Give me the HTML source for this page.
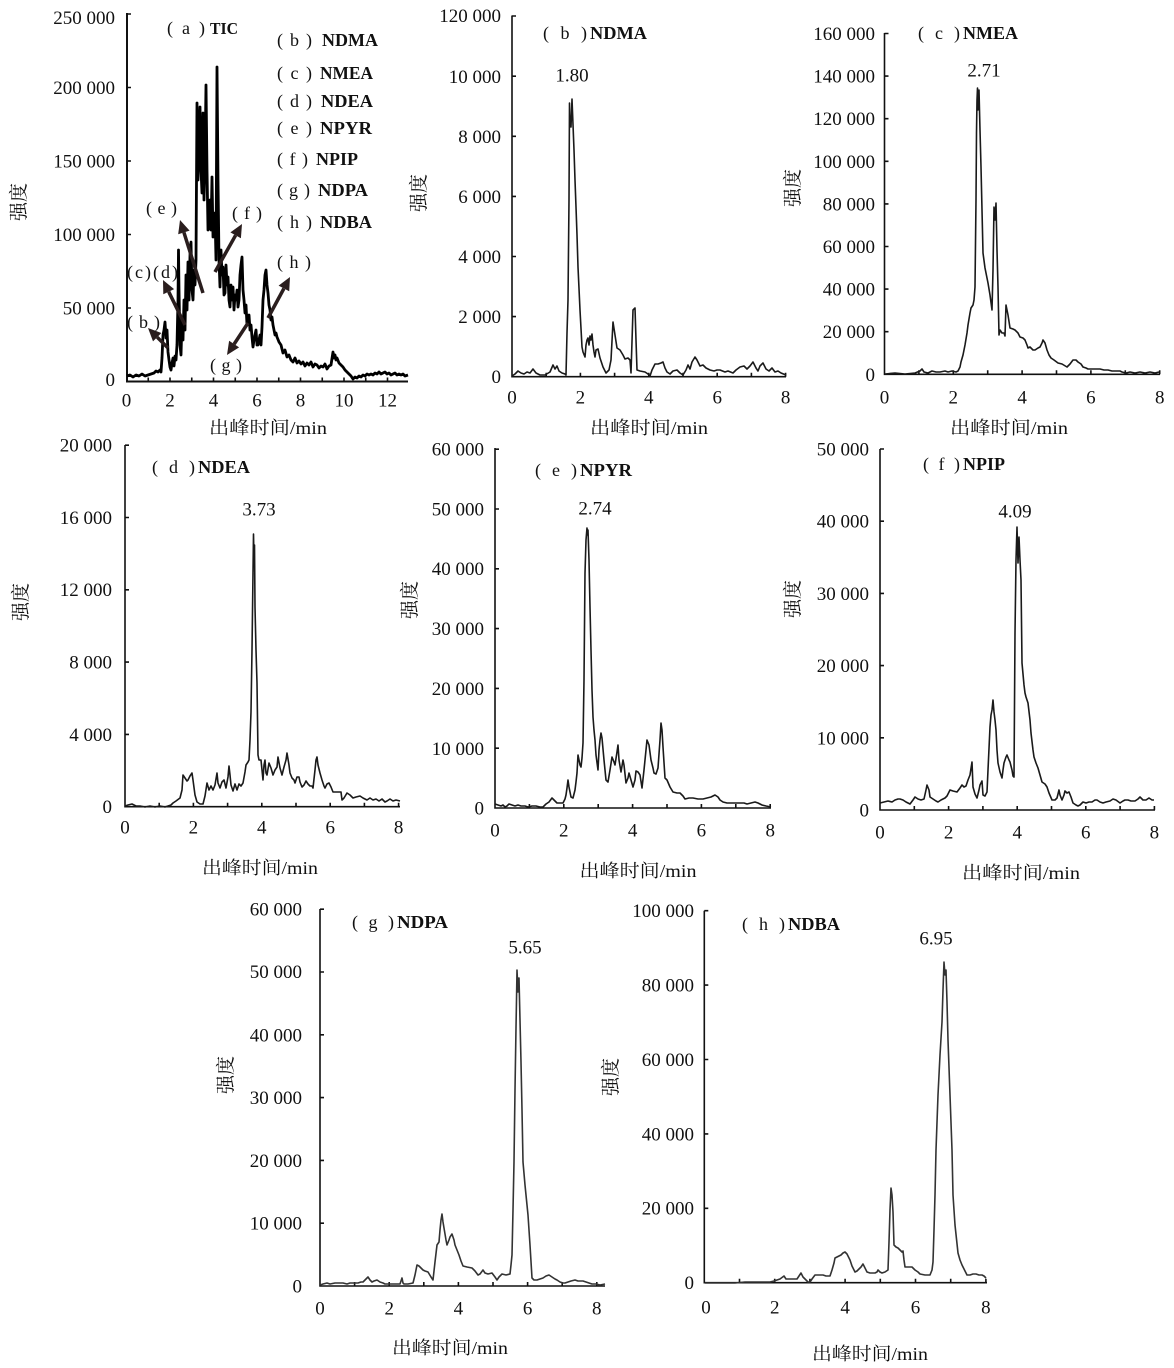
<!DOCTYPE html>
<html><head><meta charset="utf-8"><style>
html,body{margin:0;padding:0;background:#fff;}
svg{display:block;}
text{font-family:"Liberation Serif","Noto Serif CJK SC",serif;fill:#111;}
.t{font-size:19px;}
.b{font-weight:bold;}
.cj{font-family:"Liberation Serif","Noto Serif CJK SC",serif;font-size:18px;}
.ax{stroke:#111;stroke-width:1.6;fill:none;}
.tr{stroke:#1a1a1a;stroke-width:1.6;fill:none;stroke-linejoin:round;}
.ar{stroke:#2a1e1e;stroke-width:3.5;fill:none;}
.ah{fill:#2a1e1e;}
</style></head><body>
<svg width="1174" height="1368" viewBox="0 0 1174 1368" xmlns="http://www.w3.org/2000/svg">

<!-- ===== Panel (a) TIC ===== -->
<path class="ax" style="stroke-width:2" d="M127,13 V381.5 H408"/>
<path class="ax" d="M127,308 h4 M127,234.5 h4 M127,161 h4 M127,87.5 h4 M127,14 h4
M148.25,381.5 v-4 M170,381.5 v-4 M191.75,381.5 v-4 M213.5,381.5 v-4 M235.25,381.5 v-4 M257,381.5 v-4 M278.75,381.5 v-4 M300.5,381.5 v-4 M322.25,381.5 v-4 M344,381.5 v-4 M365.75,381.5 v-4 M387.5,381.5 v-4"/>
<g class="t" text-anchor="end">
<text x="115" y="386">0</text>
<text x="115" y="314.5">50 000</text>
<text x="115" y="241">100 000</text>
<text x="115" y="167.5">150 000</text>
<text x="115" y="94">200 000</text>
<text x="115" y="24">250 000</text>
</g>
<g class="t" text-anchor="middle">
<text x="126.5" y="406.5">0</text><text x="170" y="406.5">2</text><text x="213.5" y="406.5">4</text><text x="257" y="406.5">6</text><text x="300.5" y="406.5">8</text><text x="344" y="406.5">10</text><text x="387.5" y="406.5">12</text>
</g>
<text class="cj" x="268" y="434" text-anchor="middle" textLength="118" lengthAdjust="spacingAndGlyphs">出峰时间/min</text>
<text class="cj" transform="translate(25,202) rotate(-90)" text-anchor="middle" style="font-size:19px">强度</text>
<text x="167" y="34" font-size="18" textLength="38" lengthAdjust="spacing">(a)</text>
<text x="210" y="34" font-size="17" class="b" textLength="28" lengthAdjust="spacingAndGlyphs">TIC</text>

<polyline class="tr" style="stroke-width:2.8;stroke:#000" points="127,376 130,375 133,377 136,375 139,376 142,374 145,376 148,375 151,374 154,373 156,371 158,372 160,370 161,372 162,358 163,335 164,330 165,322 166,338 167,330 168,352 169,360 170,367 171,370 172,363 173,358 174,366 175,356 176,360 177,345 178,300 178.5,250 179,290 180,345 181,355 182,320 183,340 184,300 185,330 186,275 187,310 188,262 189,300 190,255 191,242 192,290 193,300 194,270 195,285 196,260 197,103 198,180 199,143 200,107 201,170 202,193 202.5,150 203,113 204,200 205,160 206,85 207,170 208,230 209,227 210,200 211,230 212,177 213,237 214,215 215,213 216,260 217,67 218,180 219,260 220,287 221,250 222,275 223,267 224,295 225,293 226,265 227,285 228,277 229,300 230,307 231,285 232,300 233,287 234,310 235,295 236,300 237,290 238,307 239,300 240,275 241,265 242,257 243,290 244,300 245,313 246,305 247,325 248,323 249,315 250,330 251,325 252,337 253,347 254,340 255,335 256,330 257,345 258,345 259,340 260,335 261,345 262,327 263,300 264,290 265,275 266,270 267,285 268,293 269,305 270,310 271,320 272,317 273,325 274,330 275,335 276,333 277,337 279,342 281,345 283,353 285,350 287,357 289,355 291,360 293,362 295,358 297,363 299,361 301,364 303,362 305,366 307,363 309,365 311,362 313,367 315,364 317,365 319,368 321,366 323,367 325,364 327,369 329,366 331,365 333,352 334,358 335,355 336,360 337,358 339,363 341,365 343,367 345,370 347,372 349,374 351,376 353,379 355,377 357,378 359,376 361,377 363,375 365,376 367,374 369,375 371,374 373,375 375,373 377,374 379,372 381,374 383,373 385,372 387,374 389,373 391,375 393,374 395,373 397,375 399,374 401,375 403,374 405,376 408,375"/>

<!-- arrows -->
<line class="ar" x1="168" y1="348" x2="157.2" y2="337.2"/><polygon class="ah" points="148,328 161.4,333 153,341.4"/>
<line class="ar" x1="185" y1="325" x2="168.7" y2="291.7"/><polygon class="ah" points="163,280 174.1,289.1 163.3,294.3"/>
<line class="ar" x1="203" y1="293" x2="183.9" y2="232.4"/><polygon class="ah" points="180,220 189.6,230.6 178.2,234.2"/>
<line class="ar" x1="215" y1="272" x2="235.6" y2="235.3"/><polygon class="ah" points="242,224 240.9,238.3 230.4,232.4"/>
<line class="ar" x1="248" y1="323" x2="234.1" y2="344.1"/><polygon class="ah" points="227,355 239.1,347.4 229.1,340.8"/>
<line class="ar" x1="268" y1="318" x2="283.9" y2="288.5"/><polygon class="ah" points="290,277 289.2,291.3 278.6,285.6"/>

<g font-size="18">
<text x="127" y="328" textLength="33" lengthAdjust="spacing">(b)</text>
<text x="127" y="278" textLength="51" lengthAdjust="spacing">(c)(d)</text>
<text x="146" y="214" textLength="31" lengthAdjust="spacing">(e)</text>
<text x="232" y="219" textLength="30" lengthAdjust="spacing">(f)</text>
<text x="210" y="371" textLength="32" lengthAdjust="spacing">(g)</text>
<text x="277" y="268" textLength="34" lengthAdjust="spacing">(h)</text>
</g>
<g font-size="18">
<text x="277" y="46" textLength="35" lengthAdjust="spacing">(b)</text><text x="322" y="46" class="b" textLength="56" lengthAdjust="spacingAndGlyphs">NDMA</text>
<text x="277" y="79" textLength="35" lengthAdjust="spacing">(c)</text><text x="320" y="79" class="b" textLength="53" lengthAdjust="spacingAndGlyphs">NMEA</text>
<text x="277" y="107" textLength="35" lengthAdjust="spacing">(d)</text><text x="321" y="107" class="b" textLength="52" lengthAdjust="spacingAndGlyphs">NDEA</text>
<text x="277" y="134" textLength="35" lengthAdjust="spacing">(e)</text><text x="320" y="134" class="b" textLength="52" lengthAdjust="spacingAndGlyphs">NPYR</text>
<text x="277" y="165" textLength="31" lengthAdjust="spacing">(f)</text><text x="316" y="165" class="b" textLength="42" lengthAdjust="spacingAndGlyphs">NPIP</text>
<text x="277" y="196" textLength="33" lengthAdjust="spacing">(g)</text><text x="318" y="196" class="b" textLength="50" lengthAdjust="spacingAndGlyphs">NDPA</text>
<text x="277" y="228" textLength="35" lengthAdjust="spacing">(h)</text><text x="320" y="228" class="b" textLength="52" lengthAdjust="spacingAndGlyphs">NDBA</text>
</g>

<!-- ===== Panel (b) NDMA ===== -->
<path class="ax" d="M512,15.5 V376.7 H786"/>
<path class="ax" d="M512,316.6 h4 M512,256.5 h4 M512,196.4 h4 M512,136.3 h4 M512,76.2 h4 M512,16 h4
M546.2,376.7 v-4 M580.4,376.7 v-4 M614.6,376.7 v-4 M648.8,376.7 v-4 M683,376.7 v-4 M717.2,376.7 v-4 M751.4,376.7 v-4 M785.6,376.7 v-4"/>
<g class="t" text-anchor="end">
<text x="501" y="383">0</text><text x="501" y="323">2 000</text><text x="501" y="263">4 000</text><text x="501" y="203">6 000</text><text x="501" y="143">8 000</text><text x="501" y="83">10 000</text><text x="501" y="22">120 000</text>
</g>
<g class="t" text-anchor="middle">
<text x="512" y="403.5">0</text><text x="580.4" y="403.5">2</text><text x="648.8" y="403.5">4</text><text x="717.2" y="403.5">6</text><text x="785.6" y="403.5">8</text>
</g>
<text class="cj" x="649" y="434" text-anchor="middle" textLength="118" lengthAdjust="spacingAndGlyphs">出峰时间/min</text>
<text class="cj" transform="translate(425,193) rotate(-90)" text-anchor="middle" style="font-size:19px">强度</text>
<text x="543" y="39" font-size="18" textLength="44" lengthAdjust="spacing">(b)</text><text x="590" y="39" font-size="18" class="b" textLength="57" lengthAdjust="spacingAndGlyphs">NDMA</text>
<text class="t" x="572" y="81.5" text-anchor="middle">1.80</text>
<polyline class="tr" points="512,376 515,374 518,371 521,373 524,374 527,372 530,373 533,369 536,373 540,375 545,375 550,372 553,365 555,369 557,366 559,371 562,373 565,374 566,375 567,333 568,300 569,200 569.5,103 570,125 571,127 572,99 574,150 575,180 576,207 577,235 578,267 580,310 582,347 583,352 585,357 586,345 587,340 588,338 589,345 590,336 591,340 592,334 593,345 594,352 595,357 596,350 598,349 600,358 603,367 606,373 609,370 611,360 613,322 615,335 617,348 620,350 623,355 625,359 628,358 630,360 631,373 633,310 635,308 636,340 637,370 640,371 645,372 648,374 650,376 652,370 655,364 658,364 661,363 663,362 665,368 667,372 670,374 673,371 677,370 680,373 683,375 686,370 688,365 690,369 692,362 695,357 697,360 700,366 703,365 706,368 710,370 714,371 717,370 720,370 725,372 728,371 733,373 736,370 740,367 744,366 747,369 750,366 753,362 756,368 758,371 760,366 763,363 766,369 769,371 772,368 775,372 778,371 781,373 786,375"/>

<!-- ===== Panel (c) NMEA ===== -->
<path class="ax" d="M884.5,33 V374.3 H1160"/>
<path class="ax" d="M884.5,331.7 h4 M884.5,289.1 h4 M884.5,246.5 h4 M884.5,203.9 h4 M884.5,161.3 h4 M884.5,118.7 h4 M884.5,76.1 h4 M884.5,33.5 h4
M918.9,374.3 v-4 M953.3,374.3 v-4 M987.7,374.3 v-4 M1022.1,374.3 v-4 M1056.5,374.3 v-4 M1090.9,374.3 v-4 M1125.3,374.3 v-4 M1159.7,374.3 v-4"/>
<g class="t" text-anchor="end">
<text x="875" y="381">0</text><text x="875" y="338">20 000</text><text x="875" y="295.5">40 000</text><text x="875" y="253">60 000</text><text x="875" y="210.5">80 000</text><text x="875" y="168">100 000</text><text x="875" y="125">120 000</text><text x="875" y="82.5">140 000</text><text x="875" y="40">160 000</text>
</g>
<g class="t" text-anchor="middle">
<text x="884.5" y="403.5">0</text><text x="953.3" y="403.5">2</text><text x="1022.1" y="403.5">4</text><text x="1090.9" y="403.5">6</text><text x="1159.7" y="403.5">8</text>
</g>
<text class="cj" x="1009" y="434" text-anchor="middle" textLength="118" lengthAdjust="spacingAndGlyphs">出峰时间/min</text>
<text class="cj" transform="translate(799,188) rotate(-90)" text-anchor="middle" style="font-size:19px">强度</text>
<text x="918" y="39" font-size="18" textLength="42" lengthAdjust="spacing">(c)</text><text x="963" y="39" font-size="18" class="b" textLength="55" lengthAdjust="spacingAndGlyphs">NMEA</text>
<text class="t" x="984" y="76.5" text-anchor="middle">2.71</text>
<polyline class="tr" points="885,374 895,373 905,374 915,373 920,371 922,369 924,372 928,373 932,371 936,372 940,372 945,371 948,372 952,371 956,372 958,371 960,367 961,362 963,355 965,345 967,333 968,325 970,313 971,308 973,305 974,300 975,287 976,200 976.5,133 977,100 977.5,88 978,110 979,90 980,130 981,167 982,210 983,253 985,268 988,283 990,295 992,310 993,270 994,207 995,220 996,203 997,250 998,287 999,335 1000,330 1002,333 1004,333 1005,336 1006,305 1008,315 1010,328 1013,329 1015,330 1018,333 1020,337 1023,338 1025,340 1027,345 1028,348 1030,347 1033,350 1035,350 1038,348 1040,347 1042,343 1043,340 1045,343 1047,350 1049,355 1051,358 1054,360 1058,363 1062,364 1067,367 1070,364 1073,360 1076,360 1078,362 1081,364 1083,367 1086,368 1088,369 1092,369 1096,369 1100,369 1104,370 1108,370 1112,371 1116,371 1120,371 1122,372 1126,373 1130,372 1135,373 1140,372 1145,373 1150,372 1155,373 1159,372"/>

<!-- ===== Panel (d) NDEA ===== -->
<path class="ax" d="M125,445 V806.7 H400"/>
<path class="ax" d="M125,734.4 h4 M125,662.1 h4 M125,589.8 h4 M125,517.5 h4 M125,445.2 h4
M159.2,806.7 v-4 M193.4,806.7 v-4 M227.6,806.7 v-4 M261.8,806.7 v-4 M296,806.7 v-4 M330.2,806.7 v-4 M364.4,806.7 v-4 M398.6,806.7 v-4"/>
<g class="t" text-anchor="end">
<text x="112" y="813">0</text><text x="112" y="741">4 000</text><text x="112" y="668.5">8 000</text><text x="112" y="596">12 000</text><text x="112" y="524">16 000</text><text x="112" y="451.5">20 000</text>
</g>
<g class="t" text-anchor="middle">
<text x="125" y="833.5">0</text><text x="193.4" y="833.5">2</text><text x="261.8" y="833.5">4</text><text x="330.2" y="833.5">6</text><text x="398.6" y="833.5">8</text>
</g>
<text class="cj" x="260" y="874" text-anchor="middle" textLength="116" lengthAdjust="spacingAndGlyphs">出峰时间/min</text>
<text class="cj" transform="translate(27,602) rotate(-90)" text-anchor="middle" style="font-size:19px">强度</text>
<text x="152" y="473" font-size="18" textLength="43" lengthAdjust="spacing">(d)</text><text x="198" y="473" font-size="18" class="b" textLength="52" lengthAdjust="spacingAndGlyphs">NDEA</text>
<text class="t" x="259" y="515.5" text-anchor="middle">3.73</text>
<polyline class="tr" points="125,806 128,805 132,804 136,806 140,806 145,807 150,806 155,807 160,806 165,807 168,806 171,805 173,803 176,801 180,798 182,790 183,775 185,778 187,781 188,780 190,776 192,773 193,780 195,795 197,802 200,804 203,804 205,796 207,783 209,790 211,786 213,790 215,785 217,773 218,783 220,788 222,782 224,780 226,788 228,777 229,766 230,775 231,785 233,791 235,784 237,790 239,784 241,786 243,783 245,772 246,765 248,762 249,760 250,740 251,712 252,650 253,573 253.5,534 254,560 254.5,545 255,607 256,650 257,683 258,755 259,760 261,760 262,770 263,780 264,765 265,760 266,773 267,775 269,763 271,768 273,775 275,770 277,767 278,757 280,768 282,775 284,767 286,760 287,753 289,765 290,773 292,778 294,780 295,783 297,777 299,777 300,782 302,787 304,785 306,781 308,784 310,786 312,786 313,788 315,770 316,760 317,757 318,765 320,773 322,780 324,786 325,788 327,784 329,783 331,787 333,792 336,792 339,792 341,792 342,800 344,798 347,793 350,795 353,798 356,797 360,796 363,798 367,800 370,798 373,800 376,799 379,801 382,799 385,802 387,801 390,799 393,801 396,800 400,801"/>

<!-- ===== Panel (e) NPYR ===== -->
<path class="ax" d="M495,448 V808 H771"/>
<path class="ax" d="M495,748.2 h4 M495,688.4 h4 M495,628.6 h4 M495,568.8 h4 M495,509 h4 M495,449.2 h4
M529.4,808 v-4 M563.8,808 v-4 M598.2,808 v-4 M632.6,808 v-4 M667,808 v-4 M701.4,808 v-4 M735.8,808 v-4 M770.2,808 v-4"/>
<g class="t" text-anchor="end">
<text x="484" y="814.5">0</text><text x="484" y="755">10 000</text><text x="484" y="695">20 000</text><text x="484" y="635">30 000</text><text x="484" y="575">40 000</text><text x="484" y="515.5">50 000</text><text x="484" y="455.5">60 000</text>
</g>
<g class="t" text-anchor="middle">
<text x="495" y="836.5">0</text><text x="563.8" y="836.5">2</text><text x="632.6" y="836.5">4</text><text x="701.4" y="836.5">6</text><text x="770.2" y="836.5">8</text>
</g>
<text class="cj" x="638" y="877" text-anchor="middle" textLength="117" lengthAdjust="spacingAndGlyphs">出峰时间/min</text>
<text class="cj" transform="translate(416,600) rotate(-90)" text-anchor="middle" style="font-size:19px">强度</text>
<text x="535" y="476" font-size="18" textLength="42" lengthAdjust="spacing">(e)</text><text x="580" y="476" font-size="18" class="b" textLength="52" lengthAdjust="spacingAndGlyphs">NPYR</text>
<text class="t" x="595" y="514.5" text-anchor="middle">2.74</text>
<polyline class="tr" points="495,804 498,805 501,806 503,805 505,807 507,806 509,804 512,805 515,806 518,805 521,806 525,806 528,807 532,806 536,806 540,807 543,807 546,804 549,802 552,798 554,800 557,803 560,803 563,803 565,799 566,795 567,788 568,780 569,787 571,797 573,798 575,790 576,782 577,773 578,755 579,760 580,765 581,767 582,758 583,743 584,680 585,573 586,540 587,528 587.5,535 588,530 589,560 590,607 591,650 592,690 593,717 594,730 595,740 596,755 598,770 599,750 600,740 601,733 602,738 604,760 606,780 608,782 610,770 612,757 614,762 615,765 617,752 618,745 619,760 621,772 623,760 624,765 626,783 628,778 629,773 631,780 633,787 635,780 636,771 638,772 640,775 642,788 644,770 646,750 647,740 649,745 651,760 653,768 654,773 656,774 658,768 660,740 661,723 662,730 663,747 665,778 667,780 670,787 673,792 677,793 680,793 683,796 685,799 689,798 693,798 698,799 703,799 707,798 711,797 715,795 718,797 720,800 723,802 727,803 733,803 737,803 741,803 744,803 747,804 751,803 755,802 758,803 762,805 766,806 771,807"/>

<!-- ===== Panel (f) NPIP ===== -->
<path class="ax" d="M880,449 V810 H1155"/>
<path class="ax" d="M880,737.8 h4 M880,665.6 h4 M880,593.4 h4 M880,521.2 h4 M880,449 h4
M914.3,810 v-4 M948.6,810 v-4 M982.9,810 v-4 M1017.2,810 v-4 M1051.5,810 v-4 M1085.8,810 v-4 M1120.1,810 v-4 M1154.4,810 v-4"/>
<g class="t" text-anchor="end">
<text x="869" y="816.5">0</text><text x="869" y="744.5">10 000</text><text x="869" y="672">20 000</text><text x="869" y="600">30 000</text><text x="869" y="527.5">40 000</text><text x="869" y="455.5">50 000</text>
</g>
<g class="t" text-anchor="middle">
<text x="880" y="838.5">0</text><text x="948.6" y="838.5">2</text><text x="1017.2" y="838.5">4</text><text x="1085.8" y="838.5">6</text><text x="1154.4" y="838.5">8</text>
</g>
<text class="cj" x="1021" y="879" text-anchor="middle" textLength="118" lengthAdjust="spacingAndGlyphs">出峰时间/min</text>
<text class="cj" transform="translate(799,599) rotate(-90)" text-anchor="middle" style="font-size:19px">强度</text>
<text x="923" y="470" font-size="18" textLength="37" lengthAdjust="spacing">(f)</text><text x="963" y="470" font-size="18" class="b" textLength="42" lengthAdjust="spacingAndGlyphs">NPIP</text>
<text class="t" x="1015" y="517.5" text-anchor="middle">4.09</text>
<polyline class="tr" points="880,803 884,802 888,801 892,802 895,800 898,799 900,799 903,800 906,802 910,804 913,800 915,797 918,799 921,800 924,799 926,790 927,785 929,790 930,797 933,799 936,801 938,802 941,800 945,798 947,796 950,790 953,791 957,792 960,788 962,785 964,787 966,786 968,780 970,775 972,762 973,787 975,794 977,798 979,790 980,785 982,781 983,795 985,796 987,792 988,770 990,727 991,715 992,710 993,700 994,712 995,720 996,730 997,750 998,763 1000,772 1002,778 1003,770 1004,763 1006,757 1007,755 1009,760 1010,762 1012,770 1013,776 1014,777 1015,633 1016,560 1017,527 1018,563 1019,537 1020,560 1021,580 1022,663 1024,685 1025,693 1026,697 1028,703 1030,720 1031,733 1033,750 1034,757 1036,763 1038,768 1040,775 1042,782 1045,784 1047,787 1049,793 1052,800 1055,800 1057,798 1059,790 1060,795 1062,800 1064,795 1065,791 1067,793 1069,792 1071,797 1073,803 1076,805 1078,806 1080,805 1083,802 1086,803 1089,802 1092,802 1095,800 1097,800 1100,802 1103,803 1106,802 1110,801 1113,799 1116,800 1120,803 1123,801 1125,800 1128,800 1131,801 1135,801 1138,799 1140,797 1143,800 1146,800 1149,798 1152,800 1154,800"/>

<!-- ===== Panel (g) NDPA ===== -->
<path class="ax" d="M320,909 V1286 H605"/>
<path class="ax" d="M320,1223.2 h4 M320,1160.4 h4 M320,1097.6 h4 M320,1034.8 h4 M320,972 h4 M320,909.2 h4
M354.6,1286 v-4 M389.2,1286 v-4 M423.8,1286 v-4 M458.4,1286 v-4 M493,1286 v-4 M527.6,1286 v-4 M562.2,1286 v-4 M596.8,1286 v-4"/>
<g class="t" text-anchor="end">
<text x="302" y="1292.5">0</text><text x="302" y="1229.5">10 000</text><text x="302" y="1167">20 000</text><text x="302" y="1104">30 000</text><text x="302" y="1041.5">40 000</text><text x="302" y="978">50 000</text><text x="302" y="915.5">60 000</text>
</g>
<g class="t" text-anchor="middle">
<text x="320" y="1314.5">0</text><text x="389.2" y="1314.5">2</text><text x="458.4" y="1314.5">4</text><text x="527.6" y="1314.5">6</text><text x="596.8" y="1314.5">8</text>
</g>
<text class="cj" x="450" y="1354" text-anchor="middle" textLength="116" lengthAdjust="spacingAndGlyphs">出峰时间/min</text>
<text class="cj" transform="translate(232,1075) rotate(-90)" text-anchor="middle" style="font-size:19px">强度</text>
<text x="352" y="928" font-size="18" textLength="42" lengthAdjust="spacing">(g)</text><text x="397" y="928" font-size="18" class="b" textLength="51" lengthAdjust="spacingAndGlyphs">NDPA</text>
<text class="t" x="525" y="953.5" text-anchor="middle">5.65</text>
<polyline class="tr" style="stroke:#333" points="320,1285 323,1284 327,1283 330,1284 335,1283 340,1283 343,1283 347,1284 350,1283 355,1283 358,1283 361,1282 363,1282 366,1279 368,1277 370,1280 372,1282 374,1281 377,1280 380,1282 383,1283 385,1284 390,1284 395,1284 400,1284 401,1281 402,1278 403,1283 404,1284 408,1284 413,1283 415,1275 417,1265 419,1266 421,1268 423,1270 425,1271 428,1272 431,1277 433,1280 435,1262 437,1245 439,1242 440,1230 441,1220 442,1214 443,1222 444,1228 446,1240 447,1245 449,1240 450,1237 452,1234 454,1240 455,1245 457,1250 459,1255 461,1261 463,1266 467,1267 472,1268 475,1271 478,1275 480,1274 483,1270 485,1273 488,1274 492,1273 495,1277 497,1280 499,1277 502,1274 506,1275 510,1274 511,1265 512,1255 513,1210 514,1162 515,1090 516,1028 516.5,1000 517,970 518,992 518.5,980 519,978 520,1020 521,1062 522,1110 523,1162 525,1185 528,1215 530,1245 532,1278 534,1280 537,1280 540,1279 543,1278 546,1276 549,1275 552,1277 555,1279 557,1280 560,1282 563,1283 565,1283 568,1282 571,1281 575,1280 578,1281 581,1281 583,1281 586,1282 589,1283 592,1284 596,1284 600,1285 605,1284"/>

<!-- ===== Panel (h) NDBA ===== -->
<path class="ax" d="M704.3,910.7 V1282.7 H987"/>
<path class="ax" d="M704.3,1208.3 h4 M704.3,1133.9 h4 M704.3,1059.5 h4 M704.3,985.1 h4 M704.3,910.7 h4
M739.5,1282.7 v-4 M774.7,1282.7 v-4 M809.9,1282.7 v-4 M845.1,1282.7 v-4 M880.3,1282.7 v-4 M915.5,1282.7 v-4 M950.7,1282.7 v-4 M985.9,1282.7 v-4"/>
<g class="t" text-anchor="end">
<text x="694" y="1289">0</text><text x="694" y="1214.5">20 000</text><text x="694" y="1140.5">40 000</text><text x="694" y="1066">60 000</text><text x="694" y="991.5">80 000</text><text x="694" y="917">100 000</text>
</g>
<g class="t" text-anchor="middle">
<text x="706" y="1313.5">0</text><text x="774.7" y="1313.5">2</text><text x="845.1" y="1313.5">4</text><text x="915.5" y="1313.5">6</text><text x="985.9" y="1313.5">8</text>
</g>
<text class="cj" x="870" y="1360" text-anchor="middle" textLength="116" lengthAdjust="spacingAndGlyphs">出峰时间/min</text>
<text class="cj" transform="translate(617,1077) rotate(-90)" text-anchor="middle" style="font-size:19px">强度</text>
<text x="742" y="930" font-size="18" textLength="43" lengthAdjust="spacing">(h)</text><text x="788" y="930" font-size="18" class="b" textLength="52" lengthAdjust="spacingAndGlyphs">NDBA</text>
<text class="t" x="936" y="944.5" text-anchor="middle">6.95</text>
<polyline class="tr" style="stroke:#333" points="705,1283 715,1283 725,1283 735,1283 745,1282 750,1282 757,1282 763,1282 770,1282 774,1281 777,1280 780,1279 784,1276 786,1279 790,1279 794,1279 797,1279 799,1276 801,1273 803,1277 806,1280 808,1282 810,1282 812,1279 815,1275 818,1275 821,1275 823,1275 826,1276 829,1276 830,1276 832,1270 834,1263 835,1258 837,1257 839,1256 841,1255 843,1253 845,1252 847,1254 848,1256 850,1260 852,1266 855,1272 857,1271 859,1269 861,1267 863,1264 865,1268 867,1272 870,1273 873,1273 875,1273 877,1272 878,1270 880,1272 882,1273 885,1272 888,1270 889,1242 890,1210 891,1188 892,1195 893,1212 894,1245 896,1247 898,1248 900,1250 902,1252 903,1251 904,1260 905,1267 908,1267 912,1267 915,1270 918,1272 920,1274 925,1275 930,1275 932,1270 933,1262 934,1230 935,1195 936,1150 938,1095 940,1055 942,1022 943,990 944,962 945,975 946,970 947,1002 948,1040 950,1095 952,1150 953,1195 955,1225 958,1253 960,1260 962,1265 965,1271 967,1275 970,1275 973,1274 976,1274 979,1275 982,1275 984,1276 986,1278"/>

</svg>
</body></html>
